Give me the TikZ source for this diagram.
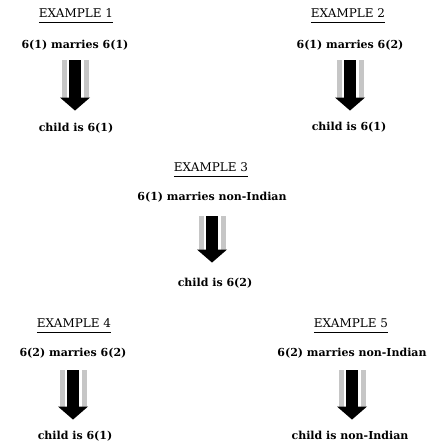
\documentclass[tikz,border=0pt]{standalone}
\usepackage{fontspec}
\setmainfont{DejaVu Serif}
\usetikzlibrary{calc}

% block arrow from node #1 down to node #2, gaps #3 (top) and #4 (bottom)
\newcommand{\blockarrow}[4]{%
  \fill[stripfill] ($(#1.south)+(-13.5,#3)$) rectangle ($(#1.south |- #2.north)+(13.5,-#4-13)$);
  \fill[white] ($(#1.south)+(-8.5,#3)$) rectangle ($(#1.south |- #2.north)+(8.5,-#4-13)$);
  \fill ($(#1.south)+(-6,#3)$) rectangle ($(#1.south |- #2.north)+(6,-#4-12.5)$);
  \fill ($(#1.south |- #2.north)+(-15,-#4-13)$) -- ($(#1.south |- #2.north)+(15,-#4-13)$)
    -- ($(#1.south |- #2.north)+(0,-#4)$) -- cycle;}

\begin{document}
\begin{tikzpicture}[x=1pt, y=-1pt,
  every node/.style={font=\bfseries\fontsize{11}{13}\selectfont, inner sep=2pt, text height=8pt, text depth=2.5pt},
  extitle/.style={font=\fontsize{12}{14}\selectfont, inner xsep=0pt, inner ysep=5pt, text height=8pt, text depth=0pt},
  uline/.style={line width=1pt},
  stripfill/.style={fill=gray!45}]
\useasboundingbox (0,0) rectangle (437,447);
% example 1
\node[extitle] (e1) at (76,13) {EXAMPLE 1};
\node (m1) at (75,46) {6(1) marries 6(1)};
\node (c1) at (76,129) {child is 6(1)};
% example 2
\node[extitle] (e2) at (348,13) {EXAMPLE 2};
\node (m2) at (350,46) {6(1) marries 6(2)};
\node (c2) at (349,128) {child is 6(1)};
% example 3
\node[extitle] (e3) at (211,167) {EXAMPLE 3};
\node (m3) at (212,198) {6(1) marries non-Indian};
\node (c3) at (215,284) {child is 6(2)};
% example 4
\node[extitle] (e4) at (74,323) {EXAMPLE 4};
\node (m4) at (73,354) {6(2) marries 6(2)};
\node (c4) at (75,437) {child is 6(1)};
% example 5
\node[extitle] (e5) at (351,323) {EXAMPLE 5};
\node (m5) at (352,354) {6(2) marries non-Indian};
\node (c5) at (350,437) {child is non-Indian};
% underlines
\draw[uline] (e1.south west) -- (e1.south east);
\draw[uline] (e2.south west) -- (e2.south east);
\draw[uline] (e3.south west) -- (e3.south east);
\draw[uline] (e4.south west) -- (e4.south east);
\draw[uline] (e5.south west) -- (e5.south east);
% arrows
\blockarrow{m1}{c1}{7}{11}
\blockarrow{m2}{c2}{7}{10}
\blockarrow{m3}{c3}{11}{14}
\blockarrow{m4}{c4}{9}{10}
\blockarrow{m5}{c5}{9}{10}
\end{tikzpicture}
\end{document}
